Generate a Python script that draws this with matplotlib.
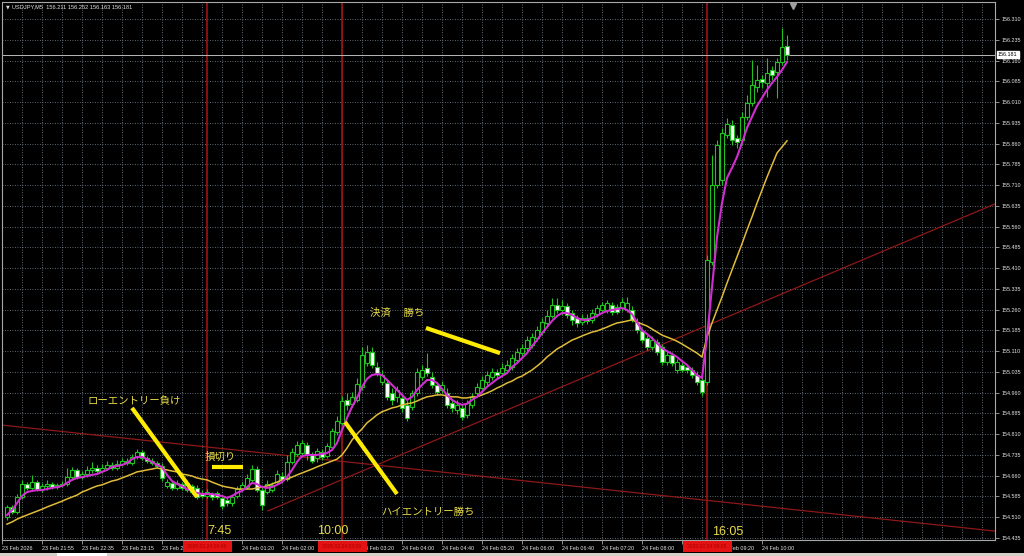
import numpy as np
import matplotlib
matplotlib.use("Agg")
import matplotlib.pyplot as plt
from matplotlib import transforms
from matplotlib.patches import Rectangle

# --- chart data (USDJPY M5) ---
symbol_info = "USDJPY,M5  156.211 156.252 156.163 156.181"
last_price = 156.181

opens = [
    154.511, 154.547, 154.529, 154.583, 154.630, 154.616, 154.637, 154.612, 154.623, 154.630,
    154.619, 154.627, 154.630, 154.655, 154.681, 154.655, 154.666, 154.681, 154.688, 154.677,
    154.688, 154.699, 154.688, 154.702, 154.713, 154.706, 154.728, 154.746, 154.724, 154.713,
    154.706, 154.695, 154.623, 154.634, 154.616, 154.630, 154.608, 154.623, 154.616, 154.598,
    154.587, 154.594, 154.598, 154.580, 154.572, 154.561, 154.587, 154.612, 154.619, 154.645,
    154.684, 154.608, 154.601, 154.608, 154.637, 154.659, 154.648, 154.710, 154.739, 154.742,
    154.771, 154.735, 154.724, 154.746, 154.731, 154.764, 154.818, 154.851, 154.934, 154.920,
    154.934, 154.981, 155.067, 155.107, 155.053, 154.998, 154.995, 154.959, 154.945, 154.941,
    154.916, 154.909, 154.959, 155.016, 155.049, 155.016, 154.988, 154.970, 154.959, 154.923,
    154.898, 154.905, 154.880, 154.916, 154.959, 154.977, 154.998, 155.016, 155.035, 155.031,
    155.042, 155.053, 155.078, 155.103, 155.121, 155.132, 155.157, 155.179, 155.212, 155.237,
    155.277, 155.259, 155.273, 155.248, 155.230, 155.215, 155.230, 155.223, 155.244, 155.259,
    155.259, 155.277, 155.270, 155.266, 155.259, 155.259, 155.215, 155.183, 155.157, 155.125,
    155.143, 155.125, 155.071, 155.096, 155.042, 155.060, 155.053, 155.042, 155.024, 155.006,
    154.998, 155.433, 155.710, 155.728, 155.891, 155.927, 155.880, 155.873, 155.956, 156.007,
    156.065, 156.094, 156.079, 156.126, 156.119, 156.155, 156.211,
]
highs = [
    154.554, 154.554, 154.594, 154.645, 154.637, 154.663, 154.645, 154.634, 154.645, 154.637,
    154.634, 154.641, 154.688, 154.692, 154.688, 154.677, 154.695, 154.710, 154.699, 154.702,
    154.713, 154.710, 154.717, 154.724, 154.724, 154.739, 154.757, 154.753, 154.731, 154.724,
    154.713, 154.706, 154.648, 154.641, 154.645, 154.637, 154.645, 154.630, 154.627, 154.608,
    154.612, 154.601, 154.605, 154.587, 154.583, 154.590, 154.623, 154.637, 154.666, 154.699,
    154.695, 154.619, 154.645, 154.637, 154.681, 154.674, 154.735, 154.760, 154.786, 154.789,
    154.782, 154.746, 154.760, 154.757, 154.778, 154.833, 154.876, 154.948, 154.959, 154.963,
    155.013, 155.125, 155.132, 155.125, 155.071, 155.042, 155.009, 154.977, 154.985, 154.956,
    154.934, 154.970, 155.049, 155.060, 155.103, 155.035, 154.998, 155.002, 154.977, 154.934,
    154.934, 154.920, 154.934, 154.959, 154.995, 155.020, 155.038, 155.049, 155.045, 155.067,
    155.078, 155.100, 155.121, 155.136, 155.165, 155.175, 155.201, 155.230, 155.259, 155.302,
    155.302, 155.295, 155.284, 155.259, 155.241, 155.244, 155.244, 155.262, 155.277, 155.288,
    155.295, 155.288, 155.281, 155.302, 155.306, 155.273, 155.230, 155.194, 155.168, 155.165,
    155.154, 155.136, 155.110, 155.107, 155.082, 155.071, 155.063, 155.053, 155.038, 155.020,
    155.458, 155.819, 155.873, 155.916, 155.953, 155.945, 155.891, 155.974, 156.036, 156.162,
    156.144, 156.108, 156.169, 156.140, 156.169, 156.278, 156.252,
]
lows = [
    154.500, 154.521, 154.521, 154.576, 154.608, 154.608, 154.605, 154.601, 154.608, 154.612,
    154.612, 154.619, 154.623, 154.645, 154.648, 154.648, 154.655, 154.670, 154.666, 154.670,
    154.681, 154.681, 154.681, 154.695, 154.699, 154.699, 154.720, 154.717, 154.706, 154.699,
    154.688, 154.641, 154.616, 154.608, 154.608, 154.608, 154.601, 154.594, 154.576, 154.580,
    154.580, 154.572, 154.576, 154.539, 154.550, 154.550, 154.580, 154.605, 154.612, 154.637,
    154.601, 154.536, 154.594, 154.601, 154.630, 154.634, 154.641, 154.702, 154.731, 154.731,
    154.717, 154.706, 154.710, 154.717, 154.724, 154.753, 154.808, 154.844, 154.898, 154.909,
    154.927, 154.970, 155.056, 155.049, 155.020, 154.988, 154.934, 154.916, 154.927, 154.891,
    154.858, 154.898, 154.948, 155.006, 155.020, 154.977, 154.952, 154.959, 154.905, 154.891,
    154.883, 154.862, 154.869, 154.905, 154.948, 154.966, 154.988, 155.006, 155.013, 155.020,
    155.031, 155.042, 155.067, 155.092, 155.110, 155.121, 155.146, 155.168, 155.201, 155.230,
    155.248, 155.241, 155.230, 155.205, 155.197, 155.205, 155.208, 155.212, 155.233, 155.248,
    155.248, 155.241, 155.244, 155.255, 155.252, 155.215, 155.175, 155.139, 155.114, 155.114,
    155.096, 155.060, 155.060, 155.056, 155.031, 155.035, 155.031, 155.013, 154.988, 154.948,
    154.988, 155.422, 155.699, 155.710, 155.880, 155.855, 155.844, 155.855, 155.945, 155.996,
    156.047, 156.061, 156.029, 156.090, 156.025, 156.144, 156.163,
]
closes = [
    154.547, 154.529, 154.583, 154.630, 154.616, 154.637, 154.612, 154.623, 154.630, 154.619,
    154.627, 154.630, 154.655, 154.681, 154.655, 154.666, 154.681, 154.688, 154.677, 154.688,
    154.699, 154.688, 154.702, 154.713, 154.706, 154.728, 154.746, 154.724, 154.713, 154.706,
    154.695, 154.652, 154.637, 154.616, 154.634, 154.616, 154.634, 154.601, 154.583, 154.587,
    154.601, 154.583, 154.583, 154.550, 154.561, 154.583, 154.612, 154.627, 154.652, 154.684,
    154.608, 154.554, 154.630, 154.627, 154.666, 154.645, 154.710, 154.746, 154.771, 154.778,
    154.735, 154.713, 154.750, 154.728, 154.767, 154.822, 154.858, 154.930, 154.916, 154.945,
    154.992, 155.096, 155.107, 155.060, 155.031, 155.024, 154.945, 154.934, 154.970, 154.905,
    154.869, 154.959, 155.035, 155.042, 155.031, 154.988, 154.963, 154.988, 154.916, 154.905,
    154.916, 154.872, 154.923, 154.945, 154.981, 155.006, 155.024, 155.035, 155.024, 155.049,
    155.060, 155.085, 155.107, 155.121, 155.150, 155.161, 155.186, 155.215, 155.237, 155.277,
    155.259, 155.273, 155.241, 155.223, 155.212, 155.230, 155.219, 155.248, 155.266, 155.277,
    155.284, 155.252, 155.252, 155.288, 155.284, 155.223, 155.186, 155.150, 155.125, 155.150,
    155.107, 155.071, 155.096, 155.067, 155.071, 155.042, 155.042, 155.024, 154.998, 154.963,
    155.440, 155.710, 155.855, 155.898, 155.931, 155.873, 155.866, 155.956, 156.007, 156.072,
    156.090, 156.083, 156.115, 156.108, 156.155, 156.209, 156.181,
]
# fast MA (magenta) and slow MA (yellow), as drawn on the chart
ma_fast = [
    154.518, 154.536, 154.561, 154.587, 154.601, 154.605, 154.608, 154.608, 154.612, 154.616,
    154.619, 154.623, 154.634, 154.645, 154.652, 154.655, 154.659, 154.663, 154.666, 154.674,
    154.681, 154.692, 154.695, 154.699, 154.706, 154.720, 154.728, 154.728, 154.720, 154.710,
    154.699, 154.692, 154.663, 154.641, 154.630, 154.623, 154.612, 154.605, 154.598, 154.594,
    154.594, 154.594, 154.590, 154.587, 154.580, 154.587, 154.598, 154.605, 154.619, 154.634,
    154.630, 154.619, 154.616, 154.619, 154.627, 154.637, 154.655, 154.681, 154.710, 154.731,
    154.735, 154.735, 154.735, 154.739, 154.742, 154.753, 154.778, 154.825, 154.869, 154.909,
    154.941, 154.981, 155.010, 155.024, 155.027, 155.024, 155.006, 154.988, 154.970, 154.952,
    154.934, 154.945, 154.970, 154.988, 155.006, 155.006, 154.995, 154.974, 154.952, 154.934,
    154.923, 154.916, 154.920, 154.934, 154.945, 154.963, 154.981, 154.995, 155.009, 155.020,
    155.031, 155.053, 155.067, 155.085, 155.103, 155.128, 155.150, 155.175, 155.197, 155.219,
    155.237, 155.248, 155.248, 155.241, 155.230, 155.223, 155.223, 155.230, 155.237, 155.248,
    155.255, 155.259, 155.262, 155.266, 155.259, 155.244, 155.215, 155.186, 155.172, 155.157,
    155.139, 155.121, 155.110, 155.100, 155.089, 155.074, 155.060, 155.042, 155.024, 155.013,
    155.161, 155.342, 155.522, 155.645, 155.736, 155.772, 155.812, 155.863, 155.917, 155.957,
    155.996, 156.025, 156.054, 156.079, 156.101, 156.126, 156.155,
]
ma_slow = [
    154.485, 154.493, 154.503, 154.511, 154.518, 154.525, 154.532, 154.539, 154.547, 154.554,
    154.561, 154.568, 154.576, 154.583, 154.590, 154.601, 154.608, 154.616, 154.623, 154.627,
    154.634, 154.641, 154.645, 154.652, 154.659, 154.666, 154.674, 154.677, 154.681, 154.684,
    154.688, 154.684, 154.681, 154.677, 154.674, 154.666, 154.663, 154.659, 154.652, 154.648,
    154.645, 154.637, 154.630, 154.623, 154.619, 154.616, 154.612, 154.612, 154.612, 154.612,
    154.616, 154.619, 154.623, 154.630, 154.637, 154.645, 154.648, 154.655, 154.663, 154.670,
    154.677, 154.684, 154.692, 154.699, 154.706, 154.713, 154.720, 154.735, 154.760, 154.789,
    154.811, 154.829, 154.851, 154.865, 154.880, 154.891, 154.898, 154.905, 154.909, 154.916,
    154.920, 154.923, 154.930, 154.938, 154.945, 154.948, 154.952, 154.952, 154.948, 154.945,
    154.945, 154.941, 154.941, 154.945, 154.945, 154.952, 154.959, 154.967, 154.977, 154.985,
    154.995, 155.002, 155.013, 155.020, 155.031, 155.042, 155.056, 155.071, 155.089, 155.103,
    155.118, 155.128, 155.139, 155.150, 155.157, 155.165, 155.172, 155.179, 155.183, 155.190,
    155.197, 155.205, 155.212, 155.215, 155.219, 155.223, 155.215, 155.208, 155.201, 155.190,
    155.179, 155.168, 155.161, 155.154, 155.146, 155.136, 155.125, 155.114, 155.103, 155.089,
    155.161, 155.212, 155.259, 155.306, 155.356, 155.404, 155.451, 155.498, 155.548, 155.595,
    155.645, 155.692, 155.739, 155.783, 155.826, 155.848, 155.870,
]

price_ticks = [154.435, 154.510, 154.585, 154.660, 154.735, 154.810, 154.885, 154.960,
               155.035, 155.110, 155.185, 155.260, 155.335, 155.410, 155.485, 155.560,
               155.635, 155.710, 155.785, 155.860, 155.935, 156.010, 156.085, 156.160,
               156.235, 156.310]
# labels that sit fully under a red time tag are left blank
time_tick_bars = [-1, 7, 15, 23, 31, 39, 47, 55, 63, 71, 79, 87, 95, 103, 111, 119, 127, 135, 143, 151]
time_tick_labels = ["23 Feb 2026", "23 Feb 21:55", "23 Feb 22:35", "23 Feb 23:15", "23 Feb 23:55",
                    "", "24 Feb 01:20", "24 Feb 02:00", "", "24 Feb 03:20",
                    "24 Feb 04:00", "24 Feb 04:40", "24 Feb 05:20", "24 Feb 06:00", "24 Feb 06:40",
                    "24 Feb 07:20", "24 Feb 08:00", "", "24 Feb 09:20", "24 Feb 10:00"]

# vertical line objects and their time labels
vline_bars = [40, 67, 140]
vline_labels = ["2026.02.24 00:45", "2026.02.24 03:00", "2026.02.24 09:05"]

# trend line objects (bar, price) -> (bar, price)
trend_lines = [((-1, 154.843), (197.6, 154.460)),
               ((52.2, 154.533), (197.6, 155.642))]

# hand-drawn yellow marks and notes
strokes = [((25.0, 154.905), (38.0, 154.583)),
           ((41.0, 154.692), (47.2, 154.692)),
           ((67.6, 154.854), (78.0, 154.594)),
           ((83.8, 155.194), (98.6, 155.103))]
notes = [("ローエントリー負け", 25.4, 154.930),
         ("損切り", 42.6, 154.728),
         ("ハイエントリー勝ち", 84.2, 154.529),
         ("決済　 勝ち", 78.0, 155.248)]
jst_times = [("7:45", 42.4, 154.462), ("10:00", 65.2, 154.462), ("16:05", 144.2, 154.458)]

W, H = 1024, 556
GREEN = "#1fc21f"
GRID = "#7d8a96"

fig = plt.figure(figsize=(W / 100, H / 100), dpi=100, facecolor="black")
ax = fig.add_axes([2 / W, 16 / H, 993 / W, 538 / H], facecolor="black")
ax.set_xlim(-1, 197.6)
ax.set_ylim(154.4278, 156.3716)

# grid
for b in range(-1, 198, 4):
    ax.axvline(b, color=GRID, lw=0.6, ls=(0, (1, 2)), zorder=1, snap=True)
for p in price_ticks:
    ax.axhline(p, color=GRID, lw=0.6, ls=(0, (1, 2)), zorder=1, snap=True)

# objects behind the candles
for b in vline_bars:
    ax.axvline(b, color="#a81212", lw=1.15, zorder=2, snap=False)
for (x0, y0), (x1, y1) in trend_lines:
    ax.plot([x0, x1], [y0, y1], color="#8e1818", lw=0.9, zorder=2)
ax.axhline(last_price, color="#b8b8b8", lw=0.7, zorder=2, snap=True)

# candles
idx = np.arange(len(closes))
o = np.array(opens)
c = np.array(closes)
up = c >= o
ax.vlines(idx, lows, highs, color=GREEN, lw=0.8, zorder=3)
ax.bar(idx[up], np.maximum(c - o, 0.0015)[up], bottom=o[up], width=0.62,
       facecolor="black", edgecolor=GREEN, lw=0.8, zorder=4)
ax.bar(idx[~up], np.maximum(o - c, 0.0015)[~up], bottom=c[~up], width=0.62,
       facecolor="white", edgecolor=GREEN, lw=0.8, zorder=4)

# moving averages
ax.plot(idx, ma_slow, color="#e0bc38", lw=1.1, zorder=5)
ax.plot(idx, ma_fast, color="#d22cd2", lw=1.5, zorder=5)

# annotations
for (x0, y0), (x1, y1) in strokes:
    ax.plot([x0, x1], [y0, y1], color="#ffec00", lw=3.0, solid_capstyle="butt", zorder=6)
for txt, x, y in notes:
    ax.text(x, y, txt, color="#e8dc48", fontsize=7.5, ha="center", va="center",
            family=["Noto Sans CJK JP", "DejaVu Sans"], zorder=7)
for txt, x, y in jst_times:
    ax.text(x, y, txt, color="#e8dc48", fontsize=9, ha="center", va="center",
            family="Liberation Sans", zorder=7)

# axes, ticks, labels
for s in ax.spines.values():
    s.set_color("#a8a8a8")
    s.set_linewidth(0.8)
ax.yaxis.tick_right()
ax.set_yticks(price_ticks)
ax.set_yticklabels([f"{p:.3f}" for p in price_ticks])
ax.set_xticks(time_tick_bars)
ax.set_xticklabels(time_tick_labels, ha="left")
ax.tick_params(axis="y", colors="#a8a8a8", labelcolor="#e6e6e6", length=3, width=0.6,
               pad=1.5, labelsize=3.9, labelfontfamily="Liberation Sans")
ax.tick_params(axis="x", colors="#a8a8a8", labelcolor="#e6e6e6", length=3, width=0.6,
               pad=1.0, labelsize=3.9, labelfontfamily="Liberation Sans")

# current price tag
ytrans = transforms.blended_transform_factory(ax.transAxes, ax.transData)
ax.text(1.0 + 3 / 993, last_price, f"{last_price:.3f}", transform=ytrans, color="black",
        fontsize=3.9, family="Liberation Sans", va="center", ha="left", zorder=8, clip_on=False,
        bbox=dict(facecolor="white", edgecolor="white", pad=0.8))

# red time tags of the vertical lines, over the time scale
btrans = transforms.blended_transform_factory(ax.transData, fig.transFigure)
for b, lab in zip(vline_bars, vline_labels):
    fig.patches.append(Rectangle((b - 4.9, 4 / H), 9.8, 11 / H, transform=btrans,
                                 facecolor="#e41212", edgecolor="none", zorder=5))
    fig.text(b, 9.5 / H, lab, transform=btrans, color="#a80000", fontsize=3.6,
             family="Liberation Sans", ha="center", va="center", zorder=6)

# title and chart-shift marker
fig.text(6 / W, 1 - 7 / H, "▼", color="#dcdcdc", fontsize=3.5, va="center")
fig.text(12 / W, 1 - 7 / H, symbol_info, color="#e6e6e6", fontsize=4.1,
         family="Liberation Sans", va="center")
xtrans = transforms.blended_transform_factory(ax.transData, ax.transAxes)
ax.plot([157.2], [0.993], marker="v", ms=4, color="#a0a0a0", transform=xtrans,
        clip_on=False, zorder=8)

# window tab strip at the very bottom
fig.patches.append(Rectangle((0, 0), 1, 3 / H, transform=fig.transFigure,
                             facecolor="#d4d0c8", edgecolor="none", zorder=1))
fig.patches.append(Rectangle((57 / W, 0), 50 / W, 3 / H, transform=fig.transFigure,
                             facecolor="white", edgecolor="none", zorder=2))

fig.savefig("out.png", dpi=100, facecolor="black")
